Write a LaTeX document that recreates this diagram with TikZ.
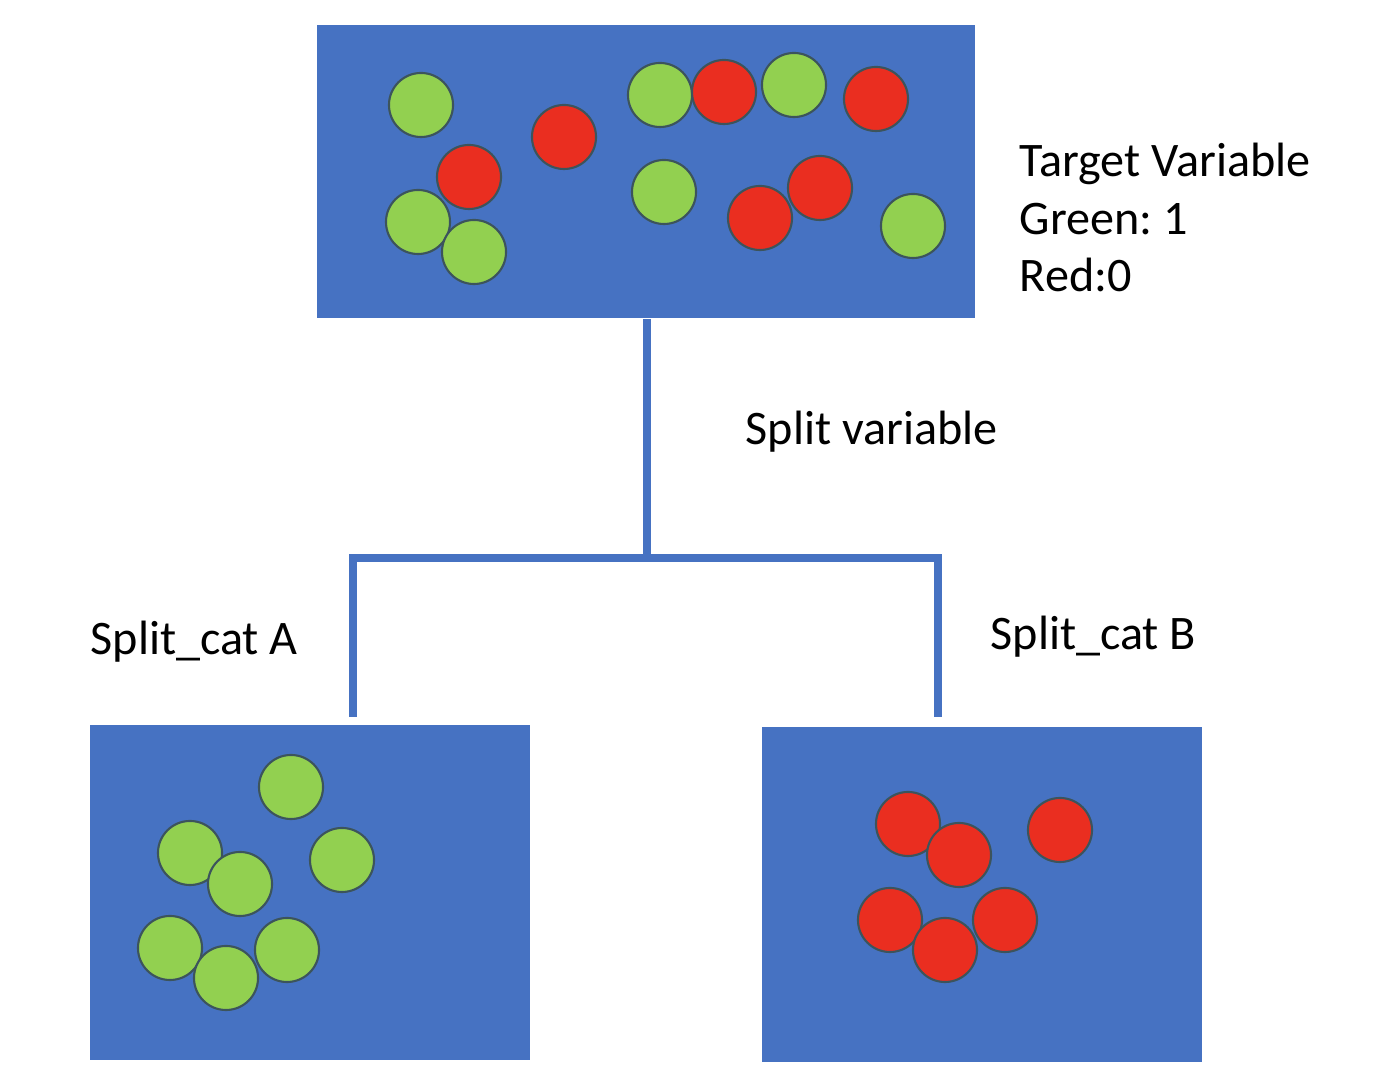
\documentclass[tikz,border=0pt]{standalone}
\usepackage{fontspec}
\setmainfont{Carlito}
\frenchspacing
\definecolor{boxblue}{RGB}{70,114,194}
\definecolor{dotgreen}{RGB}{146,208,80}
\definecolor{dotred}{RGB}{234,46,32}
\definecolor{dotrim}{RGB}{60,84,92}

\begin{document}
\begin{tikzpicture}[x=0.01cm, y=-0.01cm,
    sample/.style={rectangle, fill=boxblue, inner sep=0pt},
    branch/.style={draw=boxblue, line width=2pt},
    note/.style={inner sep=0pt, font=\fontsize{13.7}{16.4}\selectfont},
    gdot/.style={fill=dotgreen, draw=dotrim, line width=0.6pt},
    rdot/.style={fill=dotred, draw=dotrim, line width=0.6pt}]

    \useasboundingbox (0,0) rectangle (1390,1086);

    % Root sample with the target variable
    \node[sample, minimum width=6.58cm, minimum height=2.93cm] (root) at (646,171.5) {};
    \foreach \x/\y in {421/105, 418/222, 474/252, 660/95, 794/85, 664/192, 913/226} {
        \filldraw[gdot] (\x,\y) circle (0.32cm);
    }
    \foreach \x/\y in {564/137, 469/177, 724/92, 876/99, 820/188, 760/218} {
        \filldraw[rdot] (\x,\y) circle (0.32cm);
    }
    \node[note, anchor=base west, align=left] (target) at (1019,292)
        {Target Variable\\Green: 1\\Red:0};

    % Split_cat A, only green
    \node[sample, minimum width=4.40cm, minimum height=3.35cm] (catA) at (310,892.5) {};
    \foreach \x/\y in {291/787, 190/853, 240/884, 342/860, 170/948, 287/950, 226/978} {
        \filldraw[gdot] (\x,\y) circle (0.32cm);
    }

    % Split_cat B, only red
    \node[sample, minimum width=4.40cm, minimum height=3.35cm] (catB) at (982,894.5) {};
    \foreach \x/\y in {908/824, 959/855, 1060/830, 890/920, 1005/920, 945/950} {
        \filldraw[rdot] (\x,\y) circle (0.32cm);
    }

    % Split
    \coordinate (fork) at (647,558);
    \coordinate (legA) at (353,717);
    \coordinate (legB) at (938,717);
    \draw[branch] (root.south -| fork) -- (fork);
    \draw[branch] (fork) -| (legA);
    \draw[branch] (fork) -| (legB);

    \node[note, anchor=base west] (splitvar) at (745,445) {Split variable};
    \node[note, anchor=base west] (labelA) at (90,655) {Split\_cat A};
    \node[note, anchor=base west] (labelB) at (990,650) {Split\_cat B};

\end{tikzpicture}
\end{document}
